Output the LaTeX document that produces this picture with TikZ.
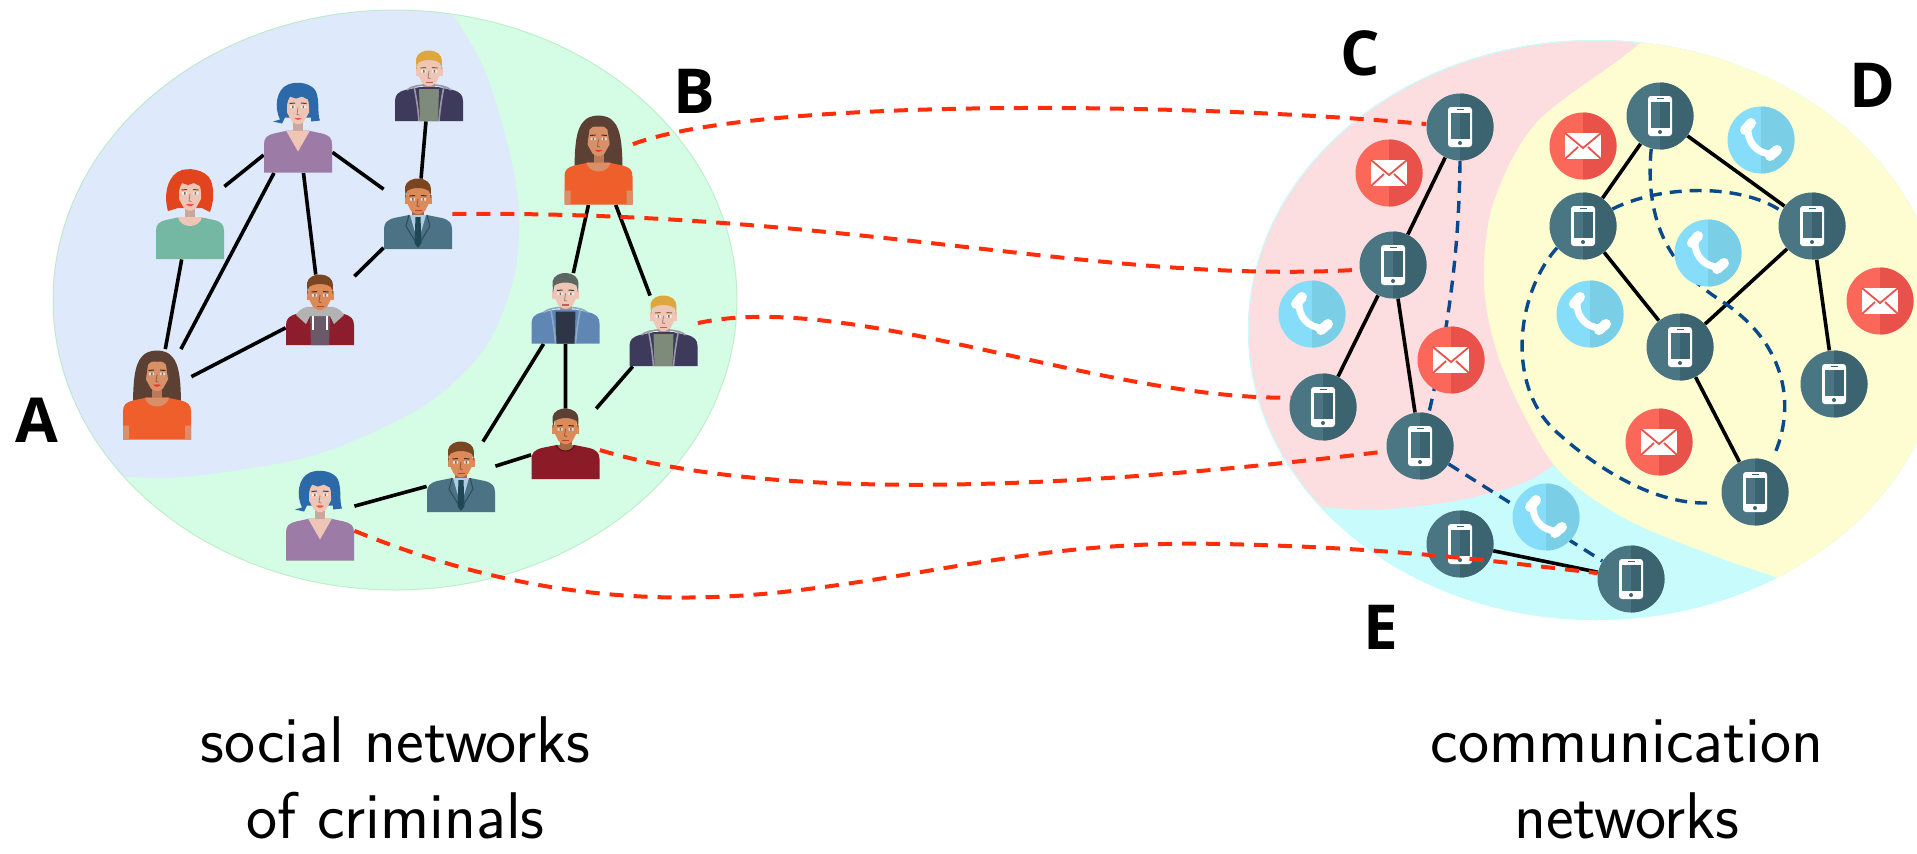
\documentclass[tikz,border=0pt]{standalone}
\usepackage{fontspec}
\newfontfamily\labfont{Open Sans}

% region tints
\definecolor{regA}{HTML}{DEEAFB}
\definecolor{regB}{HTML}{D5FCE5}
\definecolor{regC}{HTML}{FDDEE0}
\definecolor{regD}{HTML}{FEFDD1}
\definecolor{regE}{HTML}{C8FCFC}
% connectors
\definecolor{linkred}{HTML}{FF2E0A}
\definecolor{linkblue}{HTML}{0A4A8C}
% icon discs
\definecolor{phoneL}{HTML}{4A7684}
\definecolor{phoneR}{HTML}{3C6470}
\definecolor{mailL}{HTML}{FB6859}
\definecolor{mailR}{HTML}{E9524A}
\definecolor{callL}{HTML}{86DDF9}
\definecolor{callR}{HTML}{7ACFE7}
% people
\definecolor{skinTan}{HTML}{DC8A5A}
\definecolor{skinPale}{HTML}{EFC6B6}
\definecolor{skinWoman}{HTML}{D99068}
\definecolor{hairBrown}{HTML}{7B4520}
\definecolor{hairDark}{HTML}{5C4034}
\definecolor{hairBlond}{HTML}{DDA73D}
\definecolor{hairBlue}{HTML}{2C69A8}
\definecolor{hairRed}{HTML}{E2441E}
\definecolor{hairGray}{HTML}{5D6660}
\definecolor{suitBlue}{HTML}{4B7285}
\definecolor{shirtBlue}{HTML}{AFCDE6}
\definecolor{tieDark}{HTML}{1E4854}
\definecolor{hoodNavy}{HTML}{3D3A5B}
\definecolor{teeGray}{HTML}{7E8B7A}
\definecolor{trimGray}{HTML}{9A98A8}
\definecolor{hoodRed}{HTML}{8D1D2B}
\definecolor{hoodGray}{HTML}{B3B3B3}
\definecolor{teePlum}{HTML}{6B5868}
\definecolor{hoodBlue}{HTML}{6086B3}
\definecolor{teeDark}{HTML}{2E3546}
\definecolor{trimBlue}{HTML}{8FA8C8}
\definecolor{teeRed}{HTML}{8B1B26}
\definecolor{topPurple}{HTML}{9C7CA6}
\definecolor{topTeal}{HTML}{74B7A2}
\definecolor{topOrange}{HTML}{EE5F2B}

% ---------- men ----------
\newcommand{\mantorso}{%
  \fill[cSkin!75!black] (-6,-8) rectangle (6,8);
  \fill[cTop] (-34,35) -- (-34,15) .. controls (-34,9) and (-31,6) .. (-24,4) -- (-9,1) -- (9,1) -- (24,4) .. controls (31,6) and (34,9) .. (34,15) -- (34,35) -- cycle;}
\newcommand{\manhead}{%
  \fill[cSkin] (-13.5,-19) rectangle (13.5,-10);
  \fill[cSkin] (-11,-27) -- (11,-27) -- (11,-11) -- (7,-3) -- (2,0) -- (-2,0) -- (-7,-3) -- (-11,-11) -- cycle;
  \fill[cHair] (-12.5,-16) -- (-13,-27) .. controls (-12,-33) and (-5,-36) .. (1,-35.5) .. controls (8,-35) and (13,-31) .. (13,-25) -- (12.5,-16) -- (11,-23) .. controls (5,-27) and (-5,-27) .. (-11,-23) -- cycle;
  \fill[white!70!cSkin] (-8,-16) rectangle (-3,-13.5) (3,-16) rectangle (8,-13.5);
  \fill[black!55] (-6,-16) rectangle (-4.5,-13.5) (4.5,-16) rectangle (6,-13.5);
  \draw[cHair!60!black, line width=0.5pt] (-8.5,-18) -- (-3,-18.5) (3,-18.5) -- (8.5,-18);
  \draw[cSkin!65!black, line width=0.4pt] (0,-15) -- (-1,-8) -- (1.5,-7.5);
  \fill[cSkin!60!red!80!black] (-3.5,-4.5) rectangle (3.5,-3);}
\newcommand{\suitwear}{%
  \fill[shirtBlue] (-8,1) -- (8,1) -- (2,22) -- (-2,22) -- cycle;
  \fill[tieDark] (-2.5,3) -- (2.5,3) -- (3.5,29) -- (0,34) -- (-3.5,29) -- cycle;
  \draw[cTop!65!black, line width=0.5pt] (-9,1) -- (-12,12) -- (-3,27) (9,1) -- (12,12) -- (3,27);}
\newcommand{\hoodwear}{%
  \fill[cIn] (-10,3) -- (10,3) -- (9,35) -- (-9,35) -- cycle;
  \draw[cTrim, line width=0.8pt] (-22,4) .. controls (-15,-3) and (15,-3) .. (22,4);
  \draw[cTrim, line width=0.8pt] (-15,0) .. controls (-13,10) and (-11,22) .. (-10,35) (15,0) .. controls (13,10) and (11,22) .. (10,35);}
\newcommand{\redhoodwear}{%
  \fill[cIn] (-10,6) -- (10,6) -- (9,35) -- (-9,35) -- cycle;
  \fill[hoodGray] (-24,5) .. controls (-20,-2) and (-14,-4) .. (-8,-3) -- (8,-3) .. controls (14,-4) and (20,-2) .. (24,5) -- (14,14) -- (10,6) -- (-10,6) -- (-14,14) -- cycle;
  \draw[white, line width=0.6pt] (-7,6) -- (-7,20) (7,6) -- (7,20);}
\newcommand{\teewear}{%
  \fill[cSkin!75!black] (-9,1) .. controls (-7,9) and (7,9) .. (9,1) -- cycle;
  \draw[cTop!70!black, line width=0.6pt] (-9,1) .. controls (-7,9) and (7,9) .. (9,1);}

% ---------- women ----------
\newcommand{\womantorso}{%
  \fill[cSkin!85!black] (-5,-10) rectangle (5,8);
  \fill[cTop] (-34,45) -- (-34,17) .. controls (-34,10) and (-31,8) .. (-24,6) -- (-10,3) -- (10,3) -- (24,6) .. controls (31,8) and (34,10) .. (34,17) -- (34,45) -- cycle;}
\newcommand{\womanface}{%
  \fill[cSkin] (-11,-33) -- (11,-33) -- (11,-15) -- (6,-6) -- (2,-3.5) -- (-2,-3.5) -- (-6,-6) -- (-11,-15) -- cycle;
  \fill[white!70!cSkin] (-8,-22) rectangle (-3,-19.5) (3,-22) rectangle (8,-19.5);
  \fill[black!55] (-6,-22) rectangle (-4.5,-19.5) (4.5,-22) rectangle (6,-19.5);
  \draw[cHair!70!black, line width=0.5pt] (-8.5,-24) -- (-3,-24.5) (3,-24.5) -- (8.5,-24);
  \draw[cSkin!65!black, line width=0.4pt] (0,-20) -- (-1,-13) -- (1.5,-12.5);
  \fill[red!60!cSkin] (-4,-9.5) .. controls (0,-10.5) .. (4,-9.5) .. controls (0,-7) .. (-4,-9.5);}
\newcommand{\vneck}{\fill[cSkin] (-12,3) -- (12,3) -- (0,24) -- cycle;}
\newcommand{\roundneck}{\fill[cSkin] (-12,3) .. controls (-10,15) and (10,15) .. (12,3) -- cycle;}
\newcommand{\barearms}{\fill[cSkin] (-34,31) rectangle (-28,45) (28,31) rectangle (34,45);}
\newcommand{\longhairback}{\fill[cHair] (-15,-38) .. controls (-23,-30) and (-24,-10) .. (-24,14) -- (24,14) .. controls (24,-10) and (23,-30) .. (15,-38) .. controls (9,-46) and (-9,-46) .. (-15,-38) -- cycle;}
\newcommand{\longhairfront}{\fill[cHair] (-11,-16) -- (-12,-34) .. controls (-8,-40) and (-3,-40) .. (0,-37) .. controls (3,-40) and (8,-40) .. (12,-34) -- (11,-16) -- (9,-30) .. controls (5,-34) and (2,-35) .. (0,-33) .. controls (-2,-35) and (-5,-34) .. (-9,-30) -- cycle;}
\newcommand{\bobback}{\fill[cHair] (-18,-8) .. controls (-24,-20) and (-22,-38) .. (-10,-43) .. controls (0,-47) and (14,-44) .. (18,-36) .. controls (22,-26) and (19,-14) .. (22,-7) -- (13,-6) -- (13,-10) -- (-13,-10) -- (-16,-4) -- (-25,-6) -- cycle;}
\newcommand{\curlyback}{\fill[cHair] (-22,-3) .. controls (-27,-20) and (-22,-40) .. (-8,-44) .. controls (4,-47) and (20,-42) .. (22,-30) .. controls (25,-18) and (22,-8) .. (20,-2) -- (12,-6) -- (-12,-6) -- cycle;}
\newcommand{\bangs}{\fill[cHair] (-12,-18) -- (-12,-36) .. controls (-4,-41) and (6,-41) .. (12,-36) -- (12,-18) -- (10,-28) -- (4,-31) -- (-2,-29) -- (-8,-31) -- (-10,-27) -- cycle;}

% ---------- icons ----------
\newcommand{\disc}[2]{%
  \fill[#1] (0,0) circle[radius=16.75pt];
  \begin{scope}\clip (0,0) circle[radius=16.75pt]; \fill[#2] (0,-40) rectangle (40,40);\end{scope}}
\newcommand{\phoneicon}[1]{%
  \begin{scope}[shift={(#1.center)}]
    \disc{phoneL}{phoneR}
    \fill[white, rounded corners=1.5pt] (-12,-20) rectangle (12,20);
    \fill[phoneL] (-9.5,-14.5) rectangle (9.5,12);
    \fill[phoneR] (0,-14.5) rectangle (9.5,12);
    \draw[phoneR, line width=0.7pt] (-3.5,-17.3) -- (3.5,-17.3);
    \fill[phoneR] (0,16) circle[radius=1pt];
  \end{scope}}
\newcommand{\mailicon}[1]{%
  \begin{scope}[shift={(#1.center)}]
    \disc{mailL}{mailR}
    \fill[white] (-18,-13) rectangle (18,13);
    \draw[mailR, line width=0.9pt] (-18,-13) -- (0,2) -- (18,-13) (-18,13) -- (-5,1) (18,13) -- (5,1);
  \end{scope}}
\newcommand{\callicon}[1]{%
  \begin{scope}[shift={(#1.center)}]
    \disc{callL}{callR}
    \draw[white, line width=3.5pt, line cap=round] (-13,-12) .. controls (-14,2) and (-4,14) .. (11,14);
    \draw[white, line width=5pt, line cap=round] (-16,-10) -- (-10,-17) (9,16) -- (16,10);
  \end{scope}}

\begin{document}
\begin{tikzpicture}[x=0.5pt, y=-0.5pt,
  person/.style={rectangle, inner sep=0pt, minimum width=34pt, minimum height=35pt},
  woman/.style={person, minimum height=45pt},
  icon/.style={circle, inner sep=0pt, minimum size=33.5pt},
  tieline/.style={black, line width=1.8pt},
  redlink/.style={linkred, line width=2pt, dash pattern=on 7pt off 5pt},
  bluelink/.style={linkblue, line width=1.7pt, dash pattern=on 6pt off 4pt},
  lab/.style={inner sep=0pt, font=\labfont\bfseries\fontsize{31}{31}\selectfont},
  caption/.style={inner sep=0pt, anchor=base, font=\sffamily\fontsize{33}{40}\selectfont}]
\useasboundingbox (0,0) rectangle (1917,853);

% ---- social network regions A and B ----
\fill[regB] (395,300) ellipse [x radius=171pt, y radius=145pt];
\begin{scope}
  \clip (395,300) ellipse [x radius=171pt, y radius=145pt];
  \fill[regA] plot[smooth] coordinates {(425,-30) (453,14) (485,71) (509,150) (519,213) (514,277) (485,348) (422,407) (315,455) (194,476) (126,477) (40,472)} -- (-40,472) -- (-40,-30) -- cycle;
\end{scope}
\draw[regB!80!green!90!black, line width=0.5pt, opacity=0.5] (395,300) ellipse [x radius=171pt, y radius=145pt];

% ---- communication network regions C, D and E ----
\fill[regE] (1596,330) ellipse [x radius=174pt, y radius=145pt];
\begin{scope}
  \clip (1596,330) ellipse [x radius=174pt, y radius=145pt];
  \fill[regC] plot[smooth] coordinates {(1200,500) (1318,507) (1375,510) (1449,502) (1515,486) (1554,465) (1600,425)} -- (1760,-30) -- (1200,-30) -- cycle;
  \draw[regE, line width=1pt] (1596,330) ellipse [x radius=174pt, y radius=145pt];
  \fill[regD] plot[smooth] coordinates {(1700,-30) (1640,43) (1537,122) (1493,204) (1484,286) (1502,367) (1554,465) (1624,518) (1712,555) (1773,576) (1850,600) (1950,620)} -- (1950,-30) -- cycle;
\end{scope}

% ---- people ----
\node[person] (m1) at (429,86) {};
\node[woman] (w2) at (298,127.5) {};
\node[woman] (w3) at (190,214) {};
\node[person] (m4) at (418,214) {};
\node[person] (m5) at (320,310) {};
\node[woman] (w6) at (157,394.5) {};
\node[woman] (w7) at (598.5,159.5) {};
\node[person] (m8) at (565.5,308.5) {};
\node[person] (m9) at (663.5,331) {};
\node[person] (m10) at (565.5,444) {};
\node[person] (m11) at (461,477) {};
\node[woman] (w12) at (320,515.5) {};

% ---- phones and messages ----
\node[icon] (P1) at (1460,127) {};
\node[icon] (P2) at (1393,265) {};
\node[icon] (P3) at (1323,407) {};
\node[icon] (P4) at (1420,446) {};
\node[icon] (P5) at (1460,544) {};
\node[icon] (P6) at (1631,579) {};
\node[icon] (P7) at (1660,116) {};
\node[icon] (P8) at (1583,226) {};
\node[icon] (P9) at (1812,226) {};
\node[icon] (P10) at (1680,347) {};
\node[icon] (P11) at (1834,384) {};
\node[icon] (P12) at (1755,492) {};
\node[icon] (M1) at (1389,173) {};
\node[icon] (M2) at (1451,360) {};
\node[icon] (M3) at (1583,146) {};
\node[icon] (M4) at (1880,301) {};
\node[icon] (M5) at (1659,442) {};
\node[icon] (K1) at (1312,314) {};
\node[icon] (K2) at (1761,140) {};
\node[icon] (K3) at (1708,253) {};
\node[icon] (K4) at (1590,314) {};
\node[icon] (K5) at (1546,517) {};

% ---- ties between people ----
\draw[tieline] (w2) -- (w3) (w2) -- (w6) (w2) -- (m5) (w2) -- (m4) (m1) -- (m4)
  (w3) -- (w6) (w6) -- (m5) (m4) -- (m5)
  (w7) -- (m8) (w7) -- (m9) (m8) -- (m10) (m8) -- (m11) (m9) -- (m10) (m10) -- (m11) (m11) -- (w12);

% ---- calls between phones ----
\draw[tieline] (P1) -- (P2) (P2) -- (P3) (P2) -- (P4) (P5) -- (P6)
  (P7) -- (P8) (P7) -- (P9) (P8) -- (P10) (P9) -- (P10) (P9) -- (P11) (P10) -- (P12);
\draw[bluelink] (P1.south) .. controls (1459,260) and (1446,340) .. (P4.75);
\draw[bluelink] (P4) -- (P6);
\draw[bluelink, shorten >=3pt] (P7.255) .. controls (1645,215) and (1665,265) .. (1720,300) .. controls (1790,345) and (1795,410) .. (P12.62);
\draw[bluelink] (P8.30) .. controls (1660,185) and (1740,183) .. (P9.154);
\draw[bluelink, shorten >=7pt] (P8.220) .. controls (1515,295) and (1505,390) .. (1560,435) .. controls (1590,462) and (1650,505) .. (P12.198);

% ---- portraits ----
\begin{scope}[shift={(m1.center)}]
  \colorlet{cSkin}{skinPale}\colorlet{cHair}{hairBlond}\colorlet{cTop}{hoodNavy}\colorlet{cIn}{teeGray}\colorlet{cTrim}{trimGray}
  \mantorso\hoodwear\manhead
\end{scope}
\begin{scope}[shift={(m9.center)}]
  \colorlet{cSkin}{skinPale}\colorlet{cHair}{hairBlond}\colorlet{cTop}{hoodNavy}\colorlet{cIn}{teeGray}\colorlet{cTrim}{trimGray}
  \mantorso\hoodwear\manhead
\end{scope}
\begin{scope}[shift={(m8.center)}]
  \colorlet{cSkin}{skinPale}\colorlet{cHair}{hairGray}\colorlet{cTop}{hoodBlue}\colorlet{cIn}{teeDark}\colorlet{cTrim}{trimBlue}
  \mantorso\hoodwear\manhead
\end{scope}
\begin{scope}[shift={(m4.center)}]
  \colorlet{cSkin}{skinTan}\colorlet{cHair}{hairBrown}\colorlet{cTop}{suitBlue}
  \mantorso\suitwear\manhead
\end{scope}
\begin{scope}[shift={(m11.center)}]
  \colorlet{cSkin}{skinTan}\colorlet{cHair}{hairBrown}\colorlet{cTop}{suitBlue}
  \mantorso\suitwear\manhead
\end{scope}
\begin{scope}[shift={(m5.center)}]
  \colorlet{cSkin}{skinTan}\colorlet{cHair}{hairBrown}\colorlet{cTop}{hoodRed}\colorlet{cIn}{teePlum}
  \mantorso\redhoodwear\manhead
\end{scope}
\begin{scope}[shift={(m10.center)}]
  \colorlet{cSkin}{skinTan}\colorlet{cHair}{hairDark}\colorlet{cTop}{teeRed}
  \mantorso\teewear\manhead
\end{scope}
\begin{scope}[shift={(w2.center)}]
  \colorlet{cSkin}{skinPale}\colorlet{cHair}{hairBlue}\colorlet{cTop}{topPurple}
  \bobback\womantorso\vneck\womanface\bangs
\end{scope}
\begin{scope}[shift={(w12.center)}]
  \colorlet{cSkin}{skinPale}\colorlet{cHair}{hairBlue}\colorlet{cTop}{topPurple}
  \bobback\womantorso\vneck\womanface\bangs
\end{scope}
\begin{scope}[shift={(w3.center)}]
  \colorlet{cSkin}{skinPale}\colorlet{cHair}{hairRed}\colorlet{cTop}{topTeal}
  \curlyback\womantorso\roundneck\womanface\bangs
\end{scope}
\begin{scope}[shift={(w6.center)}]
  \colorlet{cSkin}{skinWoman}\colorlet{cHair}{hairDark}\colorlet{cTop}{topOrange}
  \longhairback\womantorso\roundneck\barearms\womanface\longhairfront
\end{scope}
\begin{scope}[shift={(w7.center)}]
  \colorlet{cSkin}{skinWoman}\colorlet{cHair}{hairDark}\colorlet{cTop}{topOrange}
  \longhairback\womantorso\roundneck\barearms\womanface\longhairfront
\end{scope}

% ---- icons ----
\foreach \n in {P1,P2,P3,P4,P5,P6,P7,P8,P9,P10,P11,P12} {\phoneicon{\n}}
\foreach \n in {M1,M2,M3,M4,M5} {\mailicon{\n}}
\foreach \n in {K1,K2,K3,K4,K5} {\callicon{\n}}

% ---- person-to-phone matching ----
\draw[redlink] (w7.24) .. controls (750,100) and (1150,100) .. (P1.175);
\draw[redlink] (m4.east) .. controls (850,210) and (1100,285) .. (P2.188);
\draw[redlink] (m9.13) .. controls (850,290) and (1100,400) .. (P3.164);
\draw[redlink] (m10.-10) .. controls (800,510) and (1150,480) .. (P4.189);
\draw[redlink] (w12.-24) .. controls (500,590) and (640,610) .. (800,590) .. controls (950,572) and (1050,540) .. (1223,544) .. controls (1400,548) and (1500,562) .. (P6.170);

% ---- labels ----
\node[lab] (labA) at (37,420) {A};
\node[lab] (labB) at (694,91) {B};
\node[lab] (labC) at (1360,53) {C};
\node[lab] (labD) at (1872,85) {D};
\node[lab] (labE) at (1381,627) {E};
\node[caption] (capL1) at (395.5,762) {social networks};
\node[caption] (capL2) at (395.5,838) {of criminals};
\node[caption] (capR1) at (1627,762) {communication};
\node[caption] (capR2) at (1627,838) {networks};
\end{tikzpicture}
\end{document}
